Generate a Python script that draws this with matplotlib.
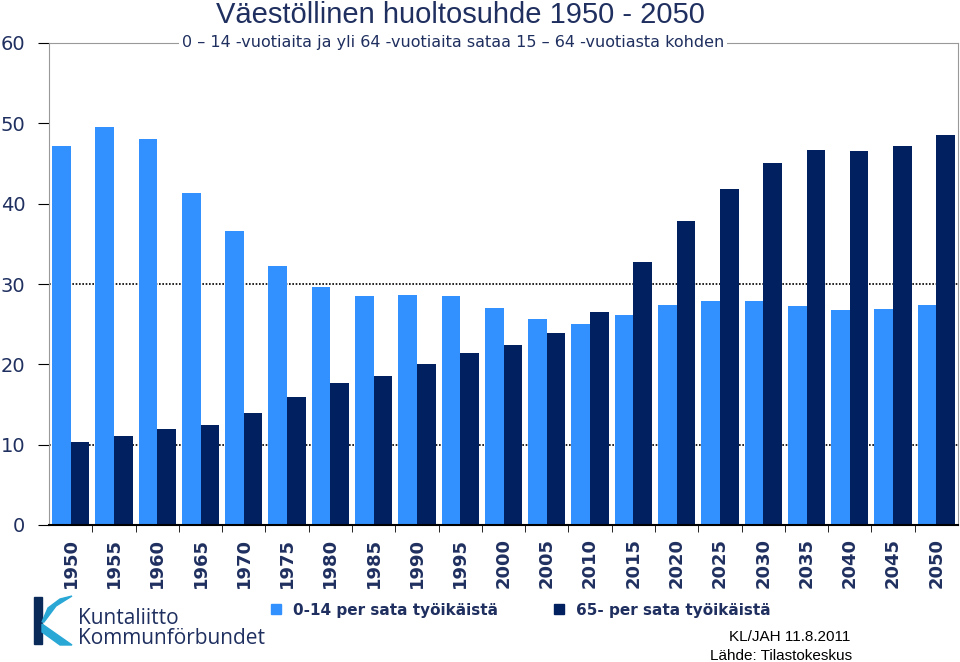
import numpy as np
import matplotlib
matplotlib.use("Agg")
import matplotlib.pyplot as plt
from matplotlib.lines import Line2D
from matplotlib.patches import Rectangle, Polygon

years = [1950, 1955, 1960, 1965, 1970, 1975, 1980, 1985, 1990, 1995, 2000,
         2005, 2010, 2015, 2020, 2025, 2030, 2035, 2040, 2045, 2050]
young = [47.2, 49.5, 48.1, 41.3, 36.6, 32.3, 29.6, 28.5, 28.6, 28.5, 27.0,
         25.7, 25.0, 26.2, 27.4, 27.9, 27.9, 27.3, 26.8, 26.9, 27.4]
old = [10.3, 11.1, 11.9, 12.5, 14.0, 15.9, 17.7, 18.6, 20.0, 21.4, 22.4,
       23.9, 26.5, 32.8, 37.8, 41.8, 45.1, 46.7, 46.6, 47.2, 48.6]
labels = ["0-14 per sata työikäistä", "65- per sata työikäistä"]

light = "#3391ff"
dark = "#002060"
navy = "#1f2f5f"

fig = plt.figure(figsize=(9.6, 6.62), dpi=100)
ax = fig.add_axes([49/960, 1-525/662, 909/960, 482/662])

x = np.arange(len(years))
w = 0.43
ax.bar(x - w, young, w, align="edge", color=light, zorder=2)
ax.bar(x, old, w, align="edge", color=dark, zorder=2)

ax.set_xlim(-0.5, len(years) - 0.5)
ax.set_ylim(0, 60)
ax.set_yticks(range(0, 61, 10))
ax.set_yticklabels([str(v) for v in range(0, 61, 10)], fontsize=14, color=navy)
for g in (10, 30):
    ax.axhline(g, color="black", lw=1.2, ls=(0, (1, 1)), zorder=1)

ax.set_xticks(x)
ax.set_xticklabels([str(y) for y in years], rotation=90, fontsize=13,
                   fontweight="bold", color=navy)
ax.tick_params(axis="x", length=0, pad=9)
ax.set_xticks(x[:-1] + 0.5, minor=True)
ax.tick_params(axis="x", which="minor", length=5, color="black", direction="out")
ax.tick_params(axis="y", length=8, color="black", pad=9)

for s in ("left", "top", "right"):
    ax.spines[s].set_color("#999999")
ax.spines["bottom"].set_color("black")
ax.spines["bottom"].set_linewidth(1.5)

fig.text(460/960, 1-23/662, "Väestöllinen huoltosuhde 1950 - 2050",
         ha="center", va="baseline", fontsize=21, color=navy, family="Liberation Sans")
fig.text(453/960, 1-42/662,
         "0 – 14 -vuotiaita ja yli 64 -vuotiaita sataa 15 – 64 -vuotiasta kohden",
         ha="center", va="center", fontsize=11.5, color=navy,
         bbox=dict(facecolor="white", edgecolor="none", pad=2))

handles = [Line2D([], [], marker="s", ls="", color=c, markersize=7) for c in (light, dark)]
fig.legend(handles, labels, loc="center", bbox_to_anchor=(516/960, 1-610/662),
           ncol=2, frameon=False, handletextpad=0.1, columnspacing=3,
           labelcolor=navy, prop=dict(size=11, weight="bold"))

# logo
fig.patches.append(Rectangle((34/960, 1-644/662), 8/960, 47/662, color="#0a2a5a",
                             transform=fig.transFigure))
fig.patches.append(Polygon([(42/960, 1-622/662), (48/960, 1-608/662), (60/960, 1-599/662),
                            (72/960, 1-596/662), (56/960, 1-606/662), (44/960, 1-622/662)],
                           closed=True, color="#29a8d6", transform=fig.transFigure))
fig.patches.append(Polygon([(42/960, 1-624/662), (72/960, 1-645/662), (60/960, 1-645/662),
                            (42/960, 1-632/662)],
                           closed=True, color="#29a8d6", transform=fig.transFigure))
fig.text(78/960, 1-618/662, "Kuntaliitto", fontsize=15, color=navy, va="center",
         family="Open Sans")
fig.text(78/960, 1-638/662, "Kommunförbundet", fontsize=15, color=navy, va="center",
         family="Open Sans")

fig.text(790/960, 1-637/662, "KL/JAH 11.8.2011", ha="center", va="center",
         fontsize=11, family="Liberation Sans")
fig.text(781/960, 1-656/662, "Lähde: Tilastokeskus", ha="center", va="center",
         fontsize=11, family="Liberation Sans")

fig.savefig("out.png", dpi=100)
